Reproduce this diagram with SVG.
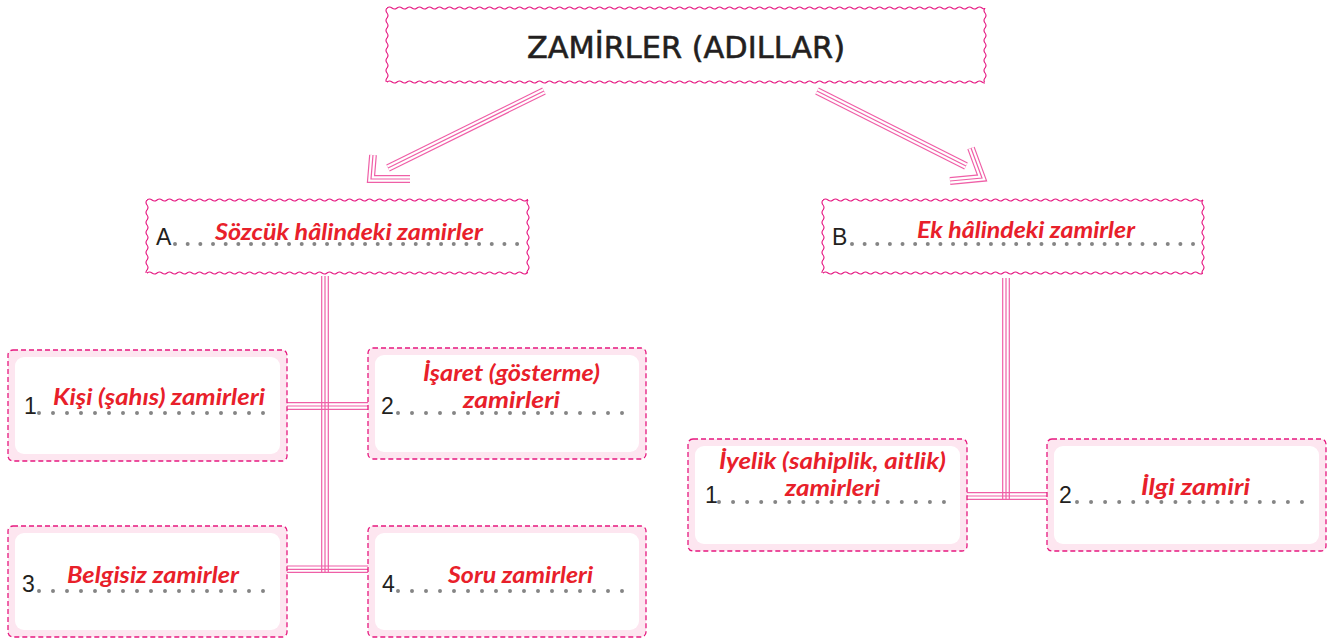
<svg xmlns="http://www.w3.org/2000/svg" width="1328" height="639" viewBox="0 0 1328 639">
<defs>
<pattern id="wh" width="10" height="6" patternUnits="userSpaceOnUse"><path d="M-5,3 Q-2.5,5 0,3 T5,3 T10,3 T15,3" fill="none" stroke="#e5137f" stroke-width="1.1"/></pattern>
<pattern id="wv" width="6" height="10" patternUnits="userSpaceOnUse"><path d="M3,-5 Q5,-2.5 3,0 T3,5 T3,10 T3,15" fill="none" stroke="#e5137f" stroke-width="1.1"/></pattern>
</defs>
<style>
.wh{fill:url(#wh)}
.wv{fill:url(#wv)}
.bg{fill:#fff}
.ob{fill:#fde6f0;stroke:#e6197f;stroke-width:1.3;stroke-dasharray:5 3}
.ib{fill:#fff}
.num{font-family:"Liberation Sans",Arial,sans-serif;font-size:23px;fill:#231f20}
.red{font-family:Lato,"Open Sans",sans-serif;font-style:italic;font-weight:bold;font-size:22px;fill:#e8202a}
.dots{stroke:#858585;stroke-width:4;stroke-linecap:round;fill:none}
.c1{fill:none;stroke:#ef5fa7;stroke-width:7.8;stroke-linejoin:miter}
.c2{fill:none;stroke:#fff;stroke-width:5.4;stroke-linejoin:miter}
.c3{fill:none;stroke:#ef5fa7;stroke-width:1.2;stroke-linejoin:miter}
.tl{stroke:#ef5fa7;stroke-width:1.2}
</style>
<rect width="1328" height="639" fill="#fff"/>

<g id="connectors">
<path class="c1" d="M544,91 L388,168"/><path class="c2" d="M544,91 L388,168"/><path class="c3" d="M544,91 L388,168"/>
<path class="c1" d="M373,155 L371,179 L410,179"/><path class="c2" d="M373,155 L371,179 L410,179"/><path class="c3" d="M373,155 L371,179 L410,179"/>
<path class="c1" d="M817,91 L966,166"/><path class="c2" d="M817,91 L966,166"/><path class="c3" d="M817,91 L966,166"/>
<path class="c1" d="M971,148 L982,178 L950,181"/><path class="c2" d="M971,148 L982,178 L950,181"/><path class="c3" d="M971,148 L982,178 L950,181"/>
<line class="tl" x1="321.7" y1="276" x2="321.7" y2="572"/>
<line class="tl" x1="325" y1="276" x2="325" y2="572"/>
<line class="tl" x1="328.3" y1="276" x2="328.3" y2="572"/>
<line class="tl" x1="287" y1="402.7" x2="368" y2="402.7"/>
<line class="tl" x1="287" y1="406" x2="368" y2="406"/>
<line class="tl" x1="287" y1="409.3" x2="368" y2="409.3"/>
<line class="tl" x1="287" y1="566" x2="368" y2="566"/>
<line class="tl" x1="287" y1="569.3" x2="368" y2="569.3"/>
<line class="tl" x1="287" y1="572.3" x2="368" y2="572.3"/>
<line class="tl" x1="1002.7" y1="278" x2="1002.7" y2="500"/>
<line class="tl" x1="1006" y1="278" x2="1006" y2="500"/>
<line class="tl" x1="1009.3" y1="278" x2="1009.3" y2="500"/>
<line class="tl" x1="967" y1="492.7" x2="1047" y2="492.7"/>
<line class="tl" x1="967" y1="496" x2="1047" y2="496"/>
<line class="tl" x1="967" y1="499.3" x2="1047" y2="499.3"/>
</g>

<g id="root">
<rect class="bg" x="387" y="8" width="598" height="74"/>
<rect class="wh" transform="translate(387,5)" width="598" height="6"/>
<rect class="wh" transform="translate(387,79)" width="598" height="6"/>
<rect class="wv" transform="translate(384,8)" width="6" height="74"/>
<rect class="wv" transform="translate(982,8)" width="6" height="74"/>
<text x="686" y="58" text-anchor="middle" font-family="'DejaVu Sans',sans-serif" font-size="31" fill="#231f20" stroke="#231f20" stroke-width="0.6" textLength="318" lengthAdjust="spacingAndGlyphs">ZAMİRLER (ADILLAR)</text>
</g>

<g id="nodeA">
<rect class="bg" x="147" y="200" width="381" height="73"/>
<rect class="wh" transform="translate(147,197)" width="381" height="6"/>
<rect class="wh" transform="translate(147,270)" width="381" height="6"/>
<rect class="wv" transform="translate(144,200)" width="6" height="73"/>
<rect class="wv" transform="translate(525,200)" width="6" height="73"/>
<text class="num" x="156" y="245" font-size="25">A</text>
<line class="dots" x1="175" y1="244" x2="517.5" y2="244" stroke-dasharray="0 12.67"/>
<text class="red" x="215" y="240" font-size="25" textLength="268" lengthAdjust="spacingAndGlyphs">Sözcük hâlindeki zamirler</text>
</g>

<g id="nodeB">
<rect class="bg" x="823" y="200" width="380" height="73"/>
<rect class="wh" transform="translate(823,197)" width="380" height="6"/>
<rect class="wh" transform="translate(823,270)" width="380" height="6"/>
<rect class="wv" transform="translate(820,200)" width="6" height="73"/>
<rect class="wv" transform="translate(1200,200)" width="6" height="73"/>
<text class="num" x="832" y="245" font-size="25">B</text>
<line class="dots" x1="852" y1="244" x2="1193.5" y2="244" stroke-dasharray="0 12.63"/>
<text class="red" x="917" y="238" font-size="25" textLength="218" lengthAdjust="spacingAndGlyphs">Ek hâlindeki zamirler</text>
</g>

<g id="nodeA1">
<rect class="ob" x="8" y="350" width="279" height="111" rx="5"/>
<rect class="ib" x="15" y="357" width="265" height="97" rx="9"/>
<text class="num" x="24" y="414">1</text>
<line class="dots" x1="39" y1="413" x2="263.5" y2="413" stroke-dasharray="0 14"/>
<text class="red" x="53" y="405" textLength="212" lengthAdjust="spacingAndGlyphs">Kişi (şahıs) zamirleri</text>
</g>

<g id="nodeA2">
<rect class="ob" x="368" y="348" width="278" height="111" rx="5"/>
<rect class="ib" x="375" y="355" width="264" height="97" rx="9"/>
<text class="num" x="381" y="414">2</text>
<line class="dots" x1="398" y1="413" x2="622.5" y2="413" stroke-dasharray="0 14"/>
<text class="red" x="423" y="381" font-size="21" textLength="177" lengthAdjust="spacingAndGlyphs">İşaret (gösterme)</text>
<text class="red" x="463" y="408" font-size="21" textLength="97" lengthAdjust="spacingAndGlyphs">zamirleri</text>
</g>

<g id="nodeA3">
<rect class="ob" x="8" y="526" width="279" height="111" rx="5"/>
<rect class="ib" x="15" y="533" width="265" height="97" rx="9"/>
<text class="num" x="22" y="592">3</text>
<line class="dots" x1="39" y1="591" x2="263.5" y2="591" stroke-dasharray="0 14"/>
<text class="red" x="67" y="583" textLength="172" lengthAdjust="spacingAndGlyphs">Belgisiz zamirler</text>
</g>

<g id="nodeA4">
<rect class="ob" x="368" y="526" width="278" height="111" rx="5"/>
<rect class="ib" x="375" y="533" width="264" height="97" rx="9"/>
<text class="num" x="382" y="592">4</text>
<line class="dots" x1="398" y1="591" x2="622.5" y2="591" stroke-dasharray="0 14"/>
<text class="red" x="448" y="583" textLength="145" lengthAdjust="spacingAndGlyphs">Soru zamirleri</text>
</g>

<g id="nodeB1">
<rect class="ob" x="688" y="439" width="279" height="112" rx="5"/>
<rect class="ib" x="695" y="446" width="265" height="98" rx="9"/>
<text class="num" x="705" y="503">1</text>
<line class="dots" x1="719" y1="502" x2="944.5" y2="502" stroke-dasharray="0 14.06"/>
<text class="red" x="719" y="469" font-size="21" textLength="227" lengthAdjust="spacingAndGlyphs">İyelik (sahiplik, aitlik)</text>
<text class="red" x="785" y="496" font-size="21" textLength="95" lengthAdjust="spacingAndGlyphs">zamirleri</text>
</g>

<g id="nodeB2">
<rect class="ob" x="1047" y="439" width="279" height="112" rx="5"/>
<rect class="ib" x="1054" y="446" width="265" height="98" rx="9"/>
<text class="num" x="1059" y="503">2</text>
<line class="dots" x1="1077" y1="502" x2="1302.5" y2="502" stroke-dasharray="0 14.06"/>
<text class="red" x="1141" y="495" textLength="109" lengthAdjust="spacingAndGlyphs">İlgi zamiri</text>
</g>
</svg>
